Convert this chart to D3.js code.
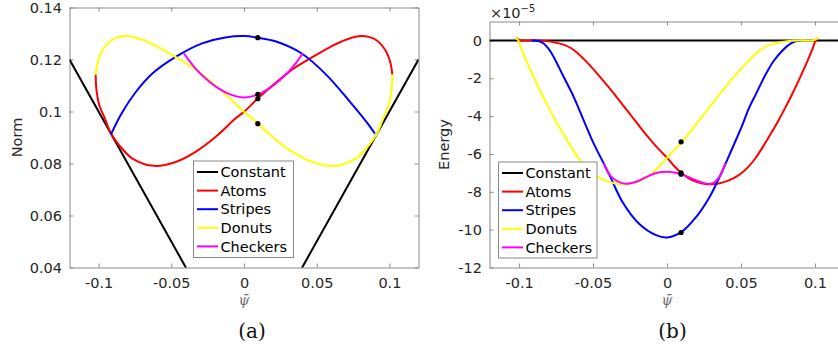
<!DOCTYPE html>
<html><head><meta charset="utf-8">
<script src="https://cdn.jsdelivr.net/npm/d3@7"></script>
<style>
body{margin:0;background:#fff}
svg{display:block}
</style></head><body>
<svg id="c" width="838" height="349"></svg>
<script>
// ---------- data ----------
const xTicks = [-0.1, -0.05, 0, 0.05, 0.1];
const xTickLabels = ["-0.1", "-0.05", "0", "0.05", "0.1"];
const normTicks = [0.04, 0.06, 0.08, 0.1, 0.12, 0.14];
const normTickLabels = ["0.04", "0.06", "0.08", "0.1", "0.12", "0.14"];
const energyTicks = [-12, -10, -8, -6, -4, -2, 0];
const energyTickLabels = ["-12", "-10", "-8", "-6", "-4", "-2", "0"];
const seriesNames = ["Constant", "Atoms", "Stripes", "Donuts", "Checkers"];
const seriesColors = ["#000000", "#ff0000", "#0000ff", "#ffff00", "#ff00ff"];

// Norm vs psi-bar (panel a)
const constantNorm = [[-0.12, 0.12], [0, 0], [0.12, 0.12]];
const atomsNorm = [[-0.1020,0.1142],[-0.1015,0.1085],[-0.0995,0.1024],[-0.0961,0.0979],[-0.0915,0.0915],[-0.0858,0.0870],[-0.0767,0.0819],[-0.0618,0.0791],[-0.0470,0.0806],[-0.0333,0.0845],[-0.0196,0.0902],[-0.0059,0.0973],[0.0005,0.1001],[0.0094,0.1050],[0.0226,0.1114],[0.0340,0.1165],[0.0455,0.1204],[0.0592,0.1248],[0.0705,0.1277],[0.0808,0.1290],[0.0911,0.1274],[0.0979,0.1229],[0.1008,0.1185],[0.1020,0.1142]];
const stripesNorm = [[-0.0915,0.0912],[-0.0836,0.0998],[-0.0744,0.1075],[-0.0630,0.1146],[-0.0470,0.1210],[-0.0288,0.1262],[-0.0127,0.1285],[0,0.1290],[0.0094,0.1284],[0.0226,0.1268],[0.0397,0.1223],[0.0568,0.1140],[0.0729,0.1037],[0.0842,0.0960],[0.0900,0.0915]];
const donutsNorm = [[-0.1020,0.1142],[-0.1008,0.1185],[-0.0979,0.1229],[-0.0911,0.1274],[-0.0808,0.1290],[-0.0705,0.1277],[-0.0592,0.1248],[-0.0455,0.1204],[-0.0340,0.1165],[-0.0226,0.1114],[-0.0094,0.1050],[-0.0005,0.1001],[0.0059,0.0973],[0.0196,0.0902],[0.0333,0.0845],[0.0470,0.0806],[0.0618,0.0791],[0.0767,0.0819],[0.0858,0.0870],[0.0915,0.0915],[0.0961,0.0979],[0.0995,0.1024],[0.1015,0.1085],[0.1020,0.1142]];
const checkersNorm = [[-0.0413,0.1223],[-0.0379,0.1197],[-0.0333,0.1165],[-0.0264,0.1127],[-0.0173,0.1088],[-0.0082,0.1063],[0,0.1054],[0.0094,0.1065],[0.0203,0.1101],[0.0295,0.1146],[0.0363,0.1191],[0.0404,0.1223]];

// Energy (x 1e-5) vs psi-bar (panel b)
const constantEnergy = [[-0.12, 0], [0.12, 0]];
const atomsEnergy = [[-0.1020,0.12],[-0.0990,0.01],[-0.0960,0],[-0.0880,0],[-0.0800,-0.05],[-0.0750,-0.12],[-0.0700,-0.22],[-0.0650,-0.40],[-0.0600,-0.70],[-0.0550,-1.08],[-0.0500,-1.50],[-0.0450,-1.95],[-0.0400,-2.42],[-0.0350,-2.90],[-0.0300,-3.40],[-0.0250,-3.90],[-0.0200,-4.40],[-0.0150,-4.90],[-0.0100,-5.36],[-0.0050,-5.80],[0,-6.20],[0.0050,-6.65],[0.0100,-7.02],[0.0150,-7.30],[0.0200,-7.47],[0.0250,-7.57],[0.0300,-7.60],[0.0350,-7.56],[0.0400,-7.45],[0.0450,-7.28],[0.0500,-7.03],[0.0550,-6.68],[0.0600,-6.20],[0.0650,-5.60],[0.0700,-4.95],[0.0750,-4.28],[0.0800,-3.55],[0.0850,-2.78],[0.0900,-1.95],[0.0950,-1.08],[0.0985,-0.42],[0.1005,0],[0.1020,0.12]];
const stripesEnergy = [[-0.0915,0],[-0.0870,-0.03],[-0.0834,-0.16],[-0.0800,-0.45],[-0.0766,-0.87],[-0.0699,-1.92],[-0.0631,-2.98],[-0.0564,-4.21],[-0.0496,-5.44],[-0.0428,-6.50],[-0.0383,-7.21],[-0.0300,-8.55],[-0.0187,-9.70],[-0.0074,-10.29],[0,-10.41],[0.0097,-10.13],[0.0198,-9.32],[0.0288,-8.27],[0.0356,-7.21],[0.0446,-5.62],[0.0500,-4.65],[0.0558,-3.51],[0.0600,-2.85],[0.0671,-1.74],[0.0720,-1.10],[0.0784,-0.51],[0.0830,-0.20],[0.0874,-0.03],[0.0900,0]];
const donutsEnergy = [[-0.1020,0.12],[-0.1005,0],[-0.0985,-0.42],[-0.0950,-1.08],[-0.0900,-1.95],[-0.0850,-2.78],[-0.0800,-3.55],[-0.0750,-4.28],[-0.0700,-4.95],[-0.0650,-5.60],[-0.0600,-6.20],[-0.0550,-6.68],[-0.0500,-7.03],[-0.0450,-7.28],[-0.0400,-7.45],[-0.0350,-7.56],[-0.0300,-7.60],[-0.0250,-7.57],[-0.0200,-7.47],[-0.0150,-7.30],[-0.0100,-7.02],[-0.0050,-6.65],[0,-6.20],[0.0050,-5.80],[0.0100,-5.36],[0.0150,-4.90],[0.0200,-4.40],[0.0250,-3.90],[0.0300,-3.40],[0.0350,-2.90],[0.0400,-2.42],[0.0450,-1.95],[0.0500,-1.50],[0.0550,-1.08],[0.0600,-0.70],[0.0650,-0.40],[0.0700,-0.22],[0.0750,-0.12],[0.0800,-0.05],[0.0880,0],[0.0960,0],[0.0990,0.01],[0.1020,0.12]];
const checkersEnergy = [[-0.0428,-6.50],[-0.0400,-6.95],[-0.0370,-7.25],[-0.0330,-7.46],[-0.0280,-7.57],[-0.0230,-7.52],[-0.0187,-7.40],[-0.0140,-7.22],[-0.0097,-7.07],[-0.0050,-6.97],[0,-6.94],[0.0050,-6.98],[0.0097,-7.07],[0.0150,-7.24],[0.0198,-7.40],[0.0250,-7.54],[0.0288,-7.58],[0.0320,-7.50],[0.0350,-7.25],[0.0375,-6.90],[0.0394,-6.50]];

// markers at psi-bar = 0.0095 (Atoms, Stripes, Donuts, Checkers)
const markerPsi = 0.0095;
const markerNorm = [0.1049, 0.1284, 0.0953, 0.1066];
const markerEnergy = [-7.00, -10.15, -5.36, -7.07];

// ---------- drawing ----------
const svg = d3.select("#c");
const FONT = "DejaVu Sans";
const AXC = "#8a8a8a", TXC = "#262626";

function panel(cfg) {
  const x = d3.scaleLinear().domain([-0.12, 0.12]).range([cfg.x0, cfg.x1]);
  const y = d3.scaleLinear().domain(cfg.yDomain).range([cfg.y1, cfg.y0]);
  const g = svg.append("g");
  const clipId = "clip" + cfg.id;
  svg.append("defs").append("clipPath").attr("id", clipId)
    .append("rect").attr("x", cfg.x0).attr("y", cfg.y0)
    .attr("width", cfg.x1 - cfg.x0).attr("height", cfg.y1 - cfg.y0);

  const styleAxis = sel => {
    sel.attr("font-family", FONT).attr("font-size", 14.5);
    sel.selectAll("path.domain").attr("stroke", AXC);
    sel.selectAll(".tick line").attr("stroke", AXC);
    sel.selectAll(".tick text").attr("fill", TXC);
  };
  g.append("g").attr("transform", `translate(0,${cfg.y1})`)
    .call(d3.axisBottom(x).tickValues(xTicks).tickFormat((d, i) => xTickLabels[i])
      .tickSizeInner(-4).tickSizeOuter(0).tickPadding(10.5)).call(styleAxis);
  g.append("g").attr("transform", `translate(0,${cfg.y0})`)
    .call(d3.axisTop(x).tickValues(xTicks).tickFormat("")
      .tickSizeInner(-4).tickSizeOuter(0)).call(styleAxis);
  g.append("g").attr("transform", `translate(${cfg.x0},0)`)
    .call(d3.axisLeft(y).tickValues(cfg.yTicks).tickFormat((d, i) => cfg.yLabels[i])
      .tickSizeInner(-4).tickSizeOuter(0).tickPadding(7.5)).call(styleAxis);
  g.append("g").attr("transform", `translate(${cfg.x1},0)`)
    .call(d3.axisRight(y).tickValues(cfg.yTicks).tickFormat("")
      .tickSizeInner(-4).tickSizeOuter(0)).call(styleAxis);

  const smooth = d3.line().x(d => x(d[0])).y(d => y(d[1])).curve(d3.curveCatmullRom.alpha(0.5));
  const straight = d3.line().x(d => x(d[0])).y(d => y(d[1])).curve(d3.curveLinear);
  const lg = g.append("g").attr("clip-path", `url(#${clipId})`);
  cfg.series.forEach((s, i) => {
    lg.append("path").attr("d", (i === 0 ? straight : smooth)(s)).attr("fill", "none")
      .attr("stroke", seriesColors[i]).attr("stroke-width", 2)
      .attr("stroke-linejoin", "round").attr("stroke-linecap", "butt");
  });
  lg.selectAll("circle.m").data(cfg.markers).enter().append("circle")
    .attr("cx", x(markerPsi)).attr("cy", d => y(d)).attr("r", 2.6).attr("fill", "#000");

  g.append("text").attr("transform", `translate(${cfg.ylabX},${(cfg.y0 + cfg.y1) / 2}) rotate(-90)`)
    .attr("text-anchor", "middle").attr("font-family", FONT).attr("font-size", 14.5)
    .attr("fill", TXC).text(cfg.ylabel);
  g.append("text").attr("x", x(0)).attr("y", 305).attr("text-anchor", "middle")
    .attr("font-family", "DejaVu Serif").attr("font-style", "italic").attr("font-size", 14)
    .attr("fill", "#6e6e6e").text("\u03C8\u0304");
  g.append("text").attr("x", cfg.capX).attr("y", 338).attr("text-anchor", "middle")
    .attr("font-family", "DejaVu Serif").attr("font-size", 20).attr("fill", "#111")
    .text(cfg.caption);

  const L = cfg.legend;
  const leg = g.append("g");
  leg.append("rect").attr("x", L.x + 0.5).attr("y", L.y + 0.5).attr("width", L.w).attr("height", L.h)
    .attr("fill", "#fff").attr("stroke", AXC).attr("stroke-width", 1);
  seriesNames.forEach((n, i) => {
    const yy = L.y + 11.5 + i * 18.6;
    leg.append("line").attr("x1", L.x + 4).attr("x2", L.x + 25).attr("y1", yy).attr("y2", yy)
      .attr("stroke", seriesColors[i]).attr("stroke-width", 2);
    leg.append("text").attr("x", L.x + 27.5).attr("y", yy + 5.2)
      .attr("font-family", FONT).attr("font-size", 14.5).attr("fill", "#000").text(n);
  });
  return { x, y, g };
}

panel({
  id: "a", x0: 69.5, x1: 418.5, y0: 7.5, y1: 267.5,
  yDomain: [0.04, 0.14], yTicks: normTicks, yLabels: normTickLabels,
  series: [constantNorm, atomsNorm, stripesNorm, donutsNorm, checkersNorm],
  markers: markerNorm, ylabel: "Norm", ylabX: 22, caption: "(a)", capX: 252,
  legend: { x: 193, y: 160.5, w: 100, h: 96.5 }
});
const pb = panel({
  id: "b", x0: 489.5, x1: 844.5, y0: 21.5, y1: 267.5,
  yDomain: [-12, 1], yTicks: energyTicks, yLabels: energyTickLabels,
  series: [constantEnergy, atomsEnergy, stripesEnergy, donutsEnergy, checkersEnergy],
  markers: markerEnergy, ylabel: "Energy", ylabX: 449, caption: "(b)", capX: 672.5,
  legend: { x: 498, y: 161.5, w: 98.5, h: 96 }
});
const ex = pb.g.append("text").attr("x", 490).attr("y", 18.3)
  .attr("font-family", FONT).attr("font-size", 14.5).attr("fill", TXC);
ex.append("tspan").text("\u00D710");
ex.append("tspan").attr("font-size", 10).attr("dy", -6.6).text("\u22125");
</script>
</body></html>
